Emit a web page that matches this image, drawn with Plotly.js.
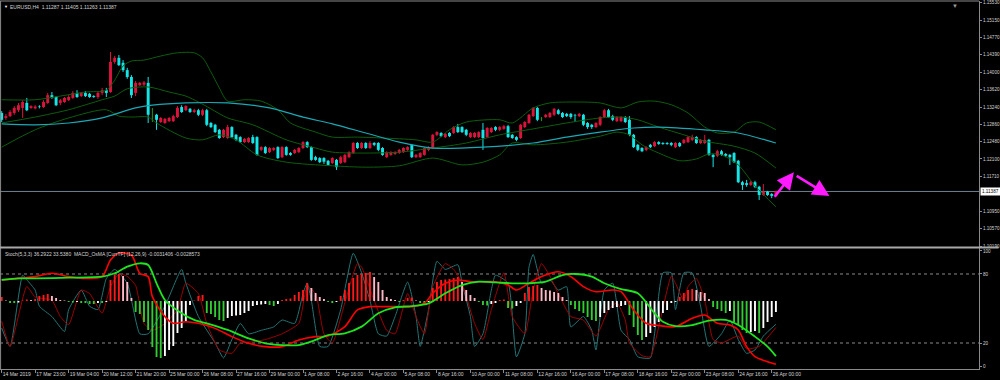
<!DOCTYPE html>
<html><head><meta charset="utf-8">
<script src="https://cdn.plot.ly/plotly-3.0.1.min.js"></script>
<style>html,body{margin:0;padding:0;background:#000;}#chart{width:1000px;height:380px;}</style>
</head><body><div id="chart"></div>
<script>
// ---------- DATA (EURUSD H4) ----------
const open=[1.1311,1.1300,1.1304,1.1311,1.1317,1.1322,1.1333,1.1322,1.1321,1.1325,
1.1324,1.1333,1.1350,1.1346,1.1333,1.1335,1.1339,1.1344,1.1355,1.1348,
1.1355,1.1353,1.1348,1.1346,1.1355,1.1361,1.1357,1.1423,1.1432,1.1421,
1.1405,1.1390,1.1355,1.1372,1.1373,1.1377,1.1302,1.1307,1.1291,1.1289,
1.1293,1.1293,1.1302,1.1324,1.1317,1.1320,1.1313,1.1317,1.1307,1.1317,
1.1289,1.1285,1.1274,1.1258,1.1256,1.1280,1.1263,1.1258,1.1247,1.1247,
1.1258,1.1258,1.1230,1.1236,1.1225,1.1230,1.1236,1.1214,1.1236,1.1223,
1.1223,1.1225,1.1234,1.1247,1.1236,1.1214,1.1212,1.1212,1.1206,1.1201,
1.1208,1.1201,1.1203,1.1214,1.1223,1.1245,1.1234,1.1245,1.1234,1.1245,
1.1245,1.1234,1.1214,1.1219,1.1221,1.1223,1.1225,1.1230,1.1241,1.1214,
1.1214,1.1219,1.1230,1.1234,1.1263,1.1267,1.1258,1.1267,1.1267,1.1280,
1.1280,1.1274,1.1258,1.1258,1.1258,1.1274,1.1258,1.1269,1.1280,1.1274,
1.1276,1.1282,1.1263,1.1258,1.1256,1.1280,1.1289,1.1304,1.1322,1.1298,
1.1302,1.1302,1.1307,1.1317,1.1311,1.1309,1.1309,1.1306,1.1304,1.1307,
1.1289,1.1285,1.1280,1.1285,1.1302,1.1317,1.1304,1.1293,1.1293,1.1302,
1.1296,1.1263,1.1241,1.1234,1.1230,1.1241,1.1238,1.1247,1.1245,1.1245,
1.1245,1.1236,1.1245,1.1245,1.1247,1.1252,1.1258,1.1245,1.1245,1.1252,
1.1219,1.1217,1.1227,1.1221,1.1219,1.1223,1.1206,1.1159,1.1157,1.1153,
1.1159,1.1149,1.1131,1.1138,1.1133,1.11287];
const high=[1.1315,1.1309,1.1317,1.1326,1.1333,1.1339,1.1344,1.1328,1.1328,1.1328,
1.1339,1.1355,1.1357,1.1348,1.1342,1.1346,1.1350,1.1359,1.1361,1.1357,
1.1359,1.1355,1.1350,1.1357,1.1366,1.1366,1.1445,1.1436,1.1438,1.1427,
1.1410,1.1394,1.1381,1.1379,1.1381,1.1390,1.1322,1.1309,1.1302,1.1300,
1.1302,1.1307,1.1326,1.1328,1.1328,1.1322,1.1320,1.1320,1.1320,1.1320,
1.1291,1.1287,1.1276,1.1276,1.1285,1.1282,1.1265,1.1260,1.1256,1.1258,
1.1263,1.1260,1.1238,1.1238,1.1236,1.1236,1.1238,1.1238,1.1238,1.1225,
1.1232,1.1236,1.1249,1.1249,1.1238,1.1217,1.1214,1.1214,1.1208,1.1214,
1.1210,1.1217,1.1221,1.1227,1.1247,1.1247,1.1247,1.1247,1.1249,1.1247,
1.1247,1.1236,1.1227,1.1227,1.1227,1.1232,1.1236,1.1238,1.1243,1.1221,
1.1225,1.1236,1.1238,1.1265,1.1271,1.1269,1.1267,1.1269,1.1282,1.1287,
1.1282,1.1276,1.1269,1.1269,1.1271,1.1289,1.1280,1.1280,1.1282,1.1282,
1.1285,1.1285,1.1265,1.1260,1.1287,1.1293,1.1309,1.1324,1.1324,1.1302,
1.1309,1.1313,1.1322,1.1320,1.1313,1.1311,1.1311,1.1309,1.1311,1.1309,
1.1291,1.1287,1.1291,1.1304,1.1320,1.1320,1.1307,1.1304,1.1304,1.1304,
1.1304,1.1265,1.1243,1.1236,1.1238,1.1243,1.1249,1.1249,1.1247,1.1247,
1.1247,1.1247,1.1247,1.1254,1.1260,1.1263,1.1260,1.1254,1.1263,1.1254,
1.1221,1.1230,1.1230,1.1223,1.1221,1.1225,1.1208,1.1162,1.1164,1.1162,
1.1162,1.1151,1.1155,1.1140,1.1135,1.11405];
const low=[1.1291,1.1296,1.1302,1.1307,1.1313,1.1300,1.1315,1.1320,1.1319,1.1321,
1.1322,1.1331,1.1342,1.1326,1.1328,1.1333,1.1337,1.1342,1.1344,1.1346,
1.1346,1.1344,1.1344,1.1342,1.1350,1.1346,1.1355,1.1419,1.1414,1.1401,
1.1386,1.1344,1.1348,1.1370,1.1370,1.1289,1.1291,1.1274,1.1289,1.1287,
1.1291,1.1291,1.1300,1.1311,1.1315,1.1311,1.1311,1.1304,1.1304,1.1282,
1.1278,1.1267,1.1254,1.1256,1.1254,1.1256,1.1249,1.1245,1.1245,1.1245,
1.1243,1.1217,1.1227,1.1221,1.1223,1.1227,1.1210,1.1212,1.1217,1.1217,
1.1221,1.1223,1.1232,1.1234,1.1206,1.1206,1.1201,1.1199,1.1195,1.1199,
1.1186,1.1199,1.1201,1.1212,1.1221,1.1232,1.1232,1.1232,1.1232,1.1238,
1.1227,1.1217,1.1212,1.1217,1.1219,1.1221,1.1223,1.1227,1.1212,1.1212,
1.1212,1.1217,1.1227,1.1232,1.1260,1.1258,1.1256,1.1258,1.1265,1.1267,
1.1267,1.1260,1.1256,1.1256,1.1256,1.1230,1.1256,1.1267,1.1271,1.1271,
1.1274,1.1256,1.1254,1.1249,1.1254,1.1278,1.1287,1.1302,1.1293,1.1293,
1.1300,1.1300,1.1304,1.1307,1.1300,1.1302,1.1298,1.1291,1.1302,1.1282,
1.1276,1.1276,1.1278,1.1282,1.1300,1.1300,1.1293,1.1291,1.1291,1.1289,
1.1260,1.1234,1.1227,1.1225,1.1227,1.1234,1.1236,1.1241,1.1241,1.1241,
1.1238,1.1234,1.1236,1.1243,1.1245,1.1249,1.1243,1.1243,1.1243,1.1217,
1.1192,1.1214,1.1217,1.1214,1.1197,1.1201,1.1157,1.1142,1.1149,1.1151,
1.1146,1.1120,1.1129,1.1129,1.1124,1.11263];
const close=[1.1296,1.1304,1.1313,1.1322,1.1328,1.1335,1.1317,1.1326,1.1325,1.1324,
1.1335,1.1350,1.1344,1.1328,1.1339,1.1344,1.1346,1.1355,1.1346,1.1355,
1.1348,1.1346,1.1346,1.1355,1.1361,1.1355,1.1423,1.1432,1.1416,1.1405,
1.1390,1.1350,1.1377,1.1377,1.1378,1.1307,1.1302,1.1296,1.1300,1.1298,
1.1300,1.1304,1.1322,1.1313,1.1326,1.1313,1.1317,1.1307,1.1317,1.1285,
1.1280,1.1269,1.1256,1.1274,1.1280,1.1258,1.1252,1.1247,1.1254,1.1256,
1.1245,1.1219,1.1236,1.1223,1.1234,1.1234,1.1212,1.1236,1.1219,1.1219,
1.1230,1.1234,1.1247,1.1236,1.1208,1.1208,1.1203,1.1204,1.1197,1.1212,
1.1192,1.1214,1.1219,1.1225,1.1245,1.1234,1.1245,1.1234,1.1245,1.1241,
1.1230,1.1219,1.1225,1.1225,1.1225,1.1230,1.1234,1.1236,1.1214,1.1219,
1.1223,1.1234,1.1236,1.1263,1.1269,1.1260,1.1265,1.1260,1.1280,1.1269,
1.1269,1.1263,1.1267,1.1267,1.1269,1.1256,1.1278,1.1278,1.1274,1.1280,
1.1282,1.1258,1.1256,1.1252,1.1285,1.1291,1.1307,1.1322,1.1296,1.1298,
1.1307,1.1311,1.1320,1.1309,1.1302,1.1304,1.1302,1.1305,1.1309,1.1285,
1.1280,1.1280,1.1289,1.1302,1.1317,1.1302,1.1296,1.1302,1.1302,1.1291,
1.1263,1.1236,1.1230,1.1227,1.1236,1.1236,1.1247,1.1243,1.1243,1.1243,
1.1241,1.1245,1.1238,1.1252,1.1258,1.1258,1.1245,1.1252,1.1252,1.1219,
1.1214,1.1227,1.1219,1.1217,1.1214,1.1203,1.1159,1.1153,1.1153,1.1159,
1.1149,1.1131,1.1138,1.1131,1.1129,1.11387];

// Bollinger bands and long MA (sampled at bar indices)
const bbUpperX=[0,8,14,20,25,27,29,31,34,38,42,46,48,50,52,54,58,62,66,69,75,79,85,91,99,103,107,111,119,122,127,131,137,143,148,152,156,160,164,168,171,175,178,181,185];
const bbUpper=[1.1340,1.1340,1.1348,1.1357,1.1361,1.1383,1.1414,1.1425,1.1427,1.1436,1.1443,1.1443,1.1432,1.1401,1.1366,1.1337,1.1340,1.1337,1.1318,1.1289,1.1269,1.1258,1.1258,1.1256,1.1252,1.1247,1.1274,1.1291,1.1296,1.1289,1.1322,1.1333,1.1335,1.1333,1.1322,1.1335,1.1337,1.1329,1.1311,1.1280,1.1267,1.1269,1.1289,1.1291,1.1274];
const bbMidX=[0,8,16,24,27,30,35,40,44,47,50,54,60,68,75,79,87,95,103,111,119,127,135,143,148,152,157,163,168,175,180,185];
const bbMid=[1.1289,1.1302,1.1318,1.1340,1.1348,1.1364,1.1368,1.1357,1.1348,1.1335,1.1320,1.1300,1.1285,1.1252,1.1234,1.1225,1.1223,1.1225,1.1234,1.1245,1.1263,1.1276,1.1289,1.1300,1.1302,1.1296,1.1280,1.1263,1.1249,1.1238,1.1223,1.1190];
const bbLowerX=[0,8,16,25,28,31,35,37,44,48,52,56,61,68,79,87,95,103,110,115,119,122,127,135,143,147,150,153,157,162,166,169,172,176,180,185];
const bbLower=[1.1236,1.1274,1.1300,1.1318,1.1304,1.1302,1.1302,1.1289,1.1256,1.1252,1.1263,1.1252,1.1219,1.1203,1.1195,1.1192,1.1195,1.1212,1.1197,1.1203,1.1219,1.1245,1.1241,1.1247,1.1260,1.1269,1.1263,1.1241,1.1223,1.1206,1.1210,1.1221,1.1219,1.1197,1.1151,1.1105];
const maX=[0,8,16,24,32,36,44,54,64,72,79,87,95,103,115,127,135,143,151,157,168,176,185];
const maVal=[1.1287,1.1285,1.1289,1.1300,1.1322,1.1328,1.1333,1.1333,1.1322,1.1302,1.1287,1.1267,1.1247,1.1234,1.1236,1.1245,1.1258,1.1269,1.1278,1.1280,1.1274,1.1267,1.1245];

// Stochastic (5,3,3)
const stochX=[0,2,5,6,8,9,12,15,16,19,21,23,25,27,30,33,35,39,43,44,47,51,53,55,57,59,62,65,67,70,72,73,74,76,78,81,84,86,88,90,92,94,97,99,100,102,104,106,109,110,112,113,115,117,118,121,123,125,126,127,129,131,133,135,136,139,141,142,144,146,148,150,152,155,156,158,160,161,163,165,167,169,172,174,176,178,180,182,185];
const stochMain=[33,17,79,75,66,52,43,30,49,66,52,49,76,84,72,28,28,52,84,72,43,20,7,23,37,28,31,34,40,37,63,72,57,17,17,49,98,81,57,28,26,43,73,43,17,49,91,84,88,72,43,17,28,66,79,72,8,28,86,97,72,75,66,69,34,43,31,14,66,72,31,23,8,7,28,81,81,49,81,81,52,17,28,40,23,11,14,26,36.29];
const signalX=[0,2,6,8,12,14,16,19,21,24,26,28,30,32,34,36,39,42,44,47,49,52,55,57,60,63,67,71,73,75,77,79,82,85,86,89,92,94,97,99,101,103,106,108,110,113,115,117,120,122,125,127,129,131,133,136,139,142,145,147,149,150,153,155,157,160,161,163,164,166,168,170,172,176,178,181,185];
const stochSignal=[39,17,69,60,57,43,36,66,63,46,69,80,78,70,37,31,37,49,72,63,37,14,11,20,21,23,28,37,69,63,28,20,55,89,86,57,31,28,63,43,28,69,89,84,72,37,23,49,81,43,28,66,89,78,63,43,40,26,49,55,40,20,9,8,34,78,72,57,69,76,57,23,20,26,15,17,33.54];

// MACD_OsMA (12,26,9): main line (green), second line (red), histogram
const macdX=[0,4,8,16,24,27,30,33,35,37,39,43,46,49,54,59,63,67,71,75,78,82,86,90,94,98,102,106,110,114,118,122,126,130,134,137,141,144,148,152,156,158,161,165,169,173,176,180,183,185];
const macdMain=[0.0012,0.00129,0.00129,0.00133,0.00139,0.00158,0.00196,0.00215,0.00205,0.00101,0.00006,-0.0007,-0.00108,-0.00127,-0.00165,-0.00213,-0.00241,-0.00251,-0.00251,-0.00222,-0.00194,-0.00184,-0.00146,-0.0007,-0.00036,-0.00029,-0.00013,0.00044,0.00091,0.0011,0.00106,0.00101,0.00101,0.0011,0.00148,0.00154,0.00139,0.00101,0.00068,0.00044,-0.0007,-0.00118,-0.00143,-0.00137,-0.00112,-0.00108,-0.00137,-0.00203,-0.0026,-0.0031406];
const macdRedX=[0,8,12,16,20,24,26,28,31,33,35,36,39,41,44,47,51,55,59,63,67,71,75,78,82,85,88,91,94,98,101,103,106,109,112,115,118,121,123,126,129,133,136,139,142,146,148,151,154,157,161,165,168,171,174,176,178,180,183,185];
const macdRed=[0.0012,0.00139,0.00158,0.00139,0.00129,0.00139,0.00234,0.00272,0.00262,0.00158,0.00139,0.00025,-0.00089,-0.00127,-0.00118,-0.00127,-0.00156,-0.00203,-0.00241,-0.0026,-0.0026,-0.00222,-0.00203,-0.002,-0.00146,-0.00051,-0.00032,-0.00032,-0.00032,-0.00032,-0.00013,0.00044,0.00101,0.0012,0.0011,0.0011,0.0011,0.00091,0.00063,0.00101,0.00139,0.00167,0.00139,0.00082,0.00053,0.00063,0.00053,-0.00051,-0.00127,-0.0014,-0.00146,-0.00099,-0.0008,-0.00127,-0.00137,-0.00165,-0.0026,-0.00317,-0.00346,-0.0036];
const osma=[0.00008,0.00001,-0.00004,-0.00004,-0.00003,0.00001,0.00003,0.00002,0.00004,0.0001,
0.00012,0.00014,0.0001,0.00006,0.00002,0.00001,-0.00002,-0.00003,-0.00002,-0.00004,
-0.00004,-0.00006,-0.00006,-0.00004,-0.00004,-0.00002,0.00042,0.00052,0.00054,0.0005,
0.00038,0.00006,-0.00022,-0.00026,-0.00042,-0.00058,-0.00092,-0.00112,-0.00114,-0.0011,
-0.00098,-0.0009,-0.00064,-0.00054,-0.0004,-0.00008,0.00001,0.0001,0.00012,-0.00024,
-0.00026,-0.00032,-0.00038,-0.0004,-0.00034,-0.0003,-0.00029,-0.00028,-0.00024,-0.0002,
-0.0001,-0.00008,-0.00007,-0.00006,-0.00008,-0.0001,-0.00006,0.00002,0.00004,0.00005,
0.00012,0.00018,0.00022,0.00036,0.00026,0.00016,0.00008,0.00004,-0.00002,-0.00004,
-0.00002,0.0001,0.00022,0.00036,0.00046,0.00052,0.00054,0.00056,0.00058,0.00048,
0.00038,0.00022,0.00008,0.00004,0.00002,-0.00002,0.00002,0.00006,0.00007,0.00001,
-0.00004,-0.00005,-0.00002,0.00026,0.00038,0.00042,0.00043,0.00044,0.00046,0.00048,
0.00038,0.00022,0.00012,0.00006,-0.00002,-0.00008,-0.00009,-0.00006,-0.00004,0.00002,
0.00003,-0.00014,-0.00015,-0.0001,-0.00004,0.00016,0.00028,0.0003,0.00032,0.00026,
0.00022,0.00021,0.00018,0.00016,0.00008,0.00002,-0.00008,-0.00016,-0.0002,-0.00024,
-0.00032,-0.00038,-0.0004,-0.00032,-0.00024,-0.00018,-0.00014,-0.00012,-0.0001,-0.00008,
-0.00028,-0.00052,-0.00068,-0.00078,-0.00072,-0.00064,-0.00052,-0.00042,-0.00024,-0.00018,
-0.00004,-0.00002,0.00008,0.00016,0.00022,0.00024,0.00022,0.00018,0.00016,0.00004,
-0.00012,-0.00016,-0.0002,-0.00024,-0.0002,-0.00042,-0.00048,-0.00058,-0.00064,-0.00062,
-0.0006,-0.00064,-0.00054,-0.00042,-0.00032,-0.00022];

// Axis ticks
const tickBars=[0,8,16,24,32,40,48,56,64,72,80,88,96,104,112,120,128,136,144,152,160,168,176,184];
const tickLabels=["14 Mar 2019","17 Mar 23:00","19 Mar 04:00","20 Mar 12:00","21 Mar 20:00","25 Mar 00:00","26 Mar 08:00","27 Mar 16:00","29 Mar 00:00","1 Apr 08:00","2 Apr 16:00","4 Apr 00:00","5 Apr 08:00","8 Apr 16:00","10 Apr 00:00","11 Apr 08:00","12 Apr 16:00","16 Apr 00:00","17 Apr 08:00","18 Apr 16:00","22 Apr 00:00","23 Apr 08:00","24 Apr 16:00","26 Apr 00:00"];
const priceTicks=[1.1553,1.1515,1.1477,1.1439,1.1400,1.1362,1.1324,1.1286,1.1248,1.1210,1.1171,1.1095,1.1057,1.1019];
const stochTicks=[0,20,80,100];
const stochLevels=[20,80];
const lastPrice=1.11387;
// hand-drawn arrows: [tailBar, tailPrice, headBar, headPrice]
const arrows=[[184.4,1.11237,189.3,1.11807],[189.6,1.11748,197.8,1.11287]];

// ---------- BUILD ----------
const UP='#dc143c', DN='#14e6e6', DOJI='#1f9a1f';
const idx=open.map((_,i)=>i);
const dir=idx.map(i=>close[i]>open[i]?1:(close[i]<open[i]?-1:0));
const bodyColor=dir.map(d=>d>0?UP:(d<0?DN:DOJI));
const minBody=0.00003;
const bodies={type:'bar',x:idx,base:idx.map(i=>Math.min(open[i],close[i])),
  y:idx.map(i=>Math.max(Math.abs(close[i]-open[i]),minBody)),width:0.7,
  marker:{color:bodyColor,line:{width:0}},xaxis:'x',yaxis:'y',hoverinfo:'skip'};
function wick(d,color){const xs=[],ys=[];idx.forEach(i=>{if(dir[i]===d){xs.push(i,i,null);ys.push(low[i],high[i],null);}});
  return {type:'scatter',mode:'lines',x:xs,y:ys,line:{color:color,width:1},xaxis:'x',yaxis:'y',hoverinfo:'skip'};}
function ln(x,y,color,w,ax,shape,sm){return {type:'scatter',mode:'lines',x:x,y:y,line:{color:color,width:w,shape:shape||'spline',smoothing:sm||0.8},xaxis:'x',yaxis:ax,hoverinfo:'skip'};}
const BB='#0d5e0d';
const histColor=osma.map((v,i)=>{const p=i>0?osma[i-1]:v;if(v>=0)return v>=p?'#ff1a1a':'#ffb8c6';return v<=p?'#32cd32':'#ffffff';});
const traces=[
  bodies, wick(1,UP), wick(-1,DN), wick(0,DOJI),
  ln(bbUpperX,bbUpper,BB,1,'y'), ln(bbMidX,bbMid,BB,1,'y'), ln(bbLowerX,bbLower,BB,1,'y'),
  ln(maX,maVal,'#1aa9b4',1.2,'y'),
  ln(stochX,stochMain,'#237575',1,'y2','spline',0.5),
  ln(signalX,stochSignal,'#a00000',1,'y2','spline',0.5),
  {type:'bar',x:idx,y:osma,width:0.45,marker:{color:histColor,line:{width:0}},xaxis:'x',yaxis:'y3',hoverinfo:'skip'},
  ln(macdRedX,macdRed,'#ff0000',1.6,'y4'),
  ln(macdX,macdMain,'#1ee61e',1.8,'y4')
];
const gray='#8a8a8a', txt='#d4d4d4';
const F={family:'Liberation Sans, Arial, sans-serif',size:5,color:txt};
const FY={family:'Liberation Sans, Arial, sans-serif',size:4.6,color:txt};
const shapes=[
  {type:'line',xref:'paper',x0:0,x1:1,yref:'y',y0:lastPrice,y1:lastPrice,line:{color:'#6f8090',width:1},layer:'below'},
  ...stochLevels.map(v=>({type:'line',xref:'paper',x0:0,x1:1,yref:'y2',y0:v,y1:v,line:{color:'#8a8a8a',width:1,dash:'dot'},layer:'below'})),
  {type:'line',xref:'paper',yref:'paper',x0:0,x1:1,y0:1,y1:1,line:{color:gray,width:1}},
  {type:'line',xref:'paper',yref:'paper',x0:0.0006,x1:0.0006,y0:0,y1:1,line:{color:gray,width:1}},
  {type:'line',xref:'paper',yref:'paper',x0:0,x1:1.02,y0:0.3302,y1:0.3302,line:{color:'#a8a8a8',width:2}}
];
const annotations=[
  {xref:'paper',yref:'paper',x:0,y:1,xanchor:'left',yanchor:'top',xshift:8,yshift:-1,showarrow:false,text:'EURUSD,H4  1.11287 1.11405 1.11263 1.11387',font:F},
  {xref:'paper',yref:'paper',x:0,y:1,xanchor:'left',yanchor:'top',xshift:2,yshift:-1,showarrow:false,text:'▼',font:{family:F.family,size:4,color:'#ffffff'}},
  {xref:'paper',yref:'paper',x:955/979,y:1,xanchor:'center',yanchor:'top',yshift:0,showarrow:false,text:'▼',font:{family:F.family,size:6,color:'#9a9a9a'}},
  {xref:'paper',yref:'paper',x:0,y:0.3288,xanchor:'left',yanchor:'top',xshift:3,yshift:-1,showarrow:false,text:'Stoch(5,3,3) 36.2922 33.5380  MACD_OsMA [CurrTF] (12,26,9) -0.0031406 -0.0028573',font:F},
  {xref:'paper',yref:'y',x:1,y:lastPrice,xanchor:'left',yanchor:'middle',xshift:1,showarrow:false,text:lastPrice.toFixed(5),bgcolor:'#ffffff',borderpad:1,font:{family:F.family,size:4.6,color:'#000000'}},
  ...arrows.map(a=>({xref:'x',yref:'y',axref:'x',ayref:'y',ax:a[0],ay:a[1],x:a[2],y:a[3],text:'',showarrow:true,arrowhead:2,arrowsize:1.3,arrowwidth:2.6,arrowcolor:'#ff1aff',standoff:0,startstandoff:0}))
];
const axBase={showgrid:false,zeroline:false,showline:true,linecolor:gray,linewidth:1,ticks:'outside',ticklen:3,tickcolor:gray,tickfont:F,fixedrange:true};
const yBase=Object.assign({},axBase,{ticklen:2,tickfont:FY,ticklabelstandoff:0});
const layout={width:1000,height:380,margin:{l:0,r:21,t:1,b:11,pad:0},paper_bgcolor:'#000',plot_bgcolor:'#000',
  showlegend:false,barmode:'overlay',font:F,hovermode:false,
  xaxis:Object.assign({},axBase,{domain:[0,1],range:[-0.406,233.53],anchor:'y2',tickvals:tickBars,ticktext:tickLabels,ticklabelposition:'outside right',tickangle:0}),
  yaxis:Object.assign({},yBase,{domain:[0.33152,1],range:[1.10168,1.15567],side:'right',anchor:'x',tickvals:priceTicks,ticktext:priceTicks.map(v=>v.toFixed(5))}),
  yaxis2:Object.assign({},yBase,{domain:[0,0.3288],range:[-2.6,102.6],side:'right',anchor:'x',tickvals:stochTicks,ticktext:stochTicks.map(String)}),
  yaxis3:{overlaying:'y2',range:[-0.00136,0.00106],visible:false,fixedrange:true},
  yaxis4:{overlaying:'y2',range:[-0.003876,0.003021],visible:false,fixedrange:true},
  shapes:shapes,annotations:annotations};
Plotly.newPlot('chart',traces,layout,{staticPlot:true,displayModeBar:false});
</script></body></html>
